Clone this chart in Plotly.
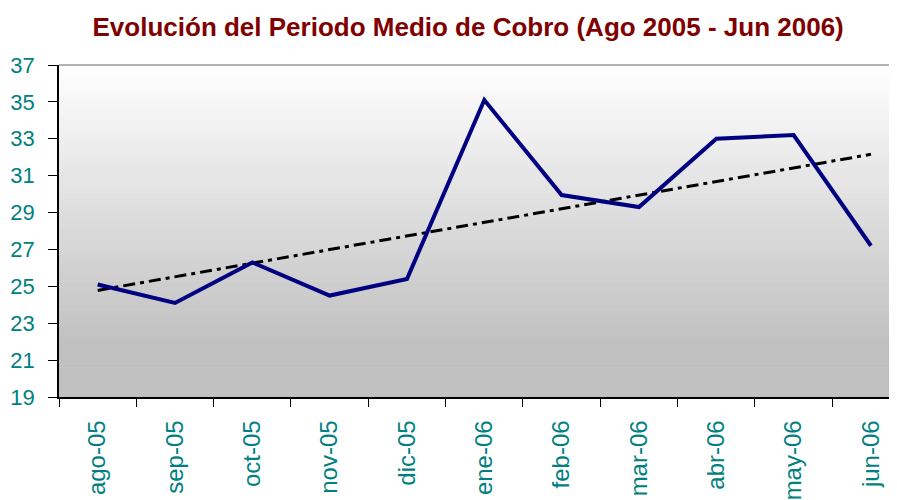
import numpy as np
import plotly.graph_objects as go

months = ["ago-05", "sep-05", "oct-05", "nov-05", "dic-05", "ene-06",
          "feb-06", "mar-06", "abr-06", "may-06", "jun-06"]
pmc = [25.1, 24.1, 26.3, 24.5, 25.4, 35.1, 29.95, 29.3, 33.0, 33.2, 27.2]
y_ticks = [19, 21, 23, 25, 27, 29, 31, 33, 35, 37]
title_text = "Evolución del Periodo Medio de Cobro (Ago 2005 - Jun 2006)"

# linear trend fitted on the series
xi = np.arange(len(pmc))
slope, intercept = np.polyfit(xi, pmc, 1)
trend = list(slope * xi + intercept)

fig = go.Figure()
fig.add_trace(go.Scatter(x=months, y=trend, mode="lines",
                         line=dict(color="black", width=3, dash="12px,5px,4px,5px"),
                         hoverinfo="skip", showlegend=False))
fig.add_trace(go.Scatter(x=months, y=pmc, mode="lines",
                         line=dict(color="#000080", width=4),
                         showlegend=False))

# gradient background for the plot area
shapes = []
n = 80
top = np.array([255, 255, 255])
bot = np.array([192, 192, 192])
for i in range(n):
    y0 = 1 - (i + 1) / n
    y1 = 1 - i / n
    t = min(1.0, (i + 0.5) / n / 0.85)
    c = (top + (bot - top) * t).round().astype(int)
    shapes.append(dict(type="rect", xref="paper", yref="paper", x0=0, x1=1,
                       y0=y0, y1=y1 + 0.002, line=dict(width=0),
                       fillcolor=f"rgb({c[0]},{c[1]},{c[2]})", layer="below"))
shapes.append(dict(type="line", xref="paper", yref="paper", x0=0, x1=1, y0=1, y1=1,
                   line=dict(color="#9a9a9a", width=1.5)))

fig.update_layout(
    width=897, height=500,
    margin=dict(l=51, r=0, t=57, b=111),
    paper_bgcolor="white", plot_bgcolor="rgba(0,0,0,0)",
    shapes=shapes,
    title=dict(text=f"<b>{title_text}</b>", x=0.513, xanchor="center",
               y=0.962, yanchor="middle",
               font=dict(family="Liberation Sans, Arial", size=26, color="#800000")),
    font=dict(family="Liberation Sans, Arial"),
)
fig.update_xaxes(type="category", range=[-0.5, 10.44], tickson="boundaries",
                 ticks="outside", ticklen=8, tickcolor="black", tickwidth=1,
                 showline=True, linecolor="black", linewidth=1.5,
                 showgrid=False, zeroline=False, tickangle=-90,
                 automargin=False, ticklabelstandoff=12,
                 tickfont=dict(size=24, color="#008080"))
fig.update_yaxes(range=[19, 37], tickvals=y_ticks, ticks="outside", ticklen=9,
                 tickcolor="black", tickwidth=1, showline=True, linecolor="black",
                 linewidth=1.5, showgrid=False, zeroline=False,
                 automargin=False, ticklabelstandoff=9,
                 tickfont=dict(size=22, color="#008080"))

fig.write_html("out.html")
